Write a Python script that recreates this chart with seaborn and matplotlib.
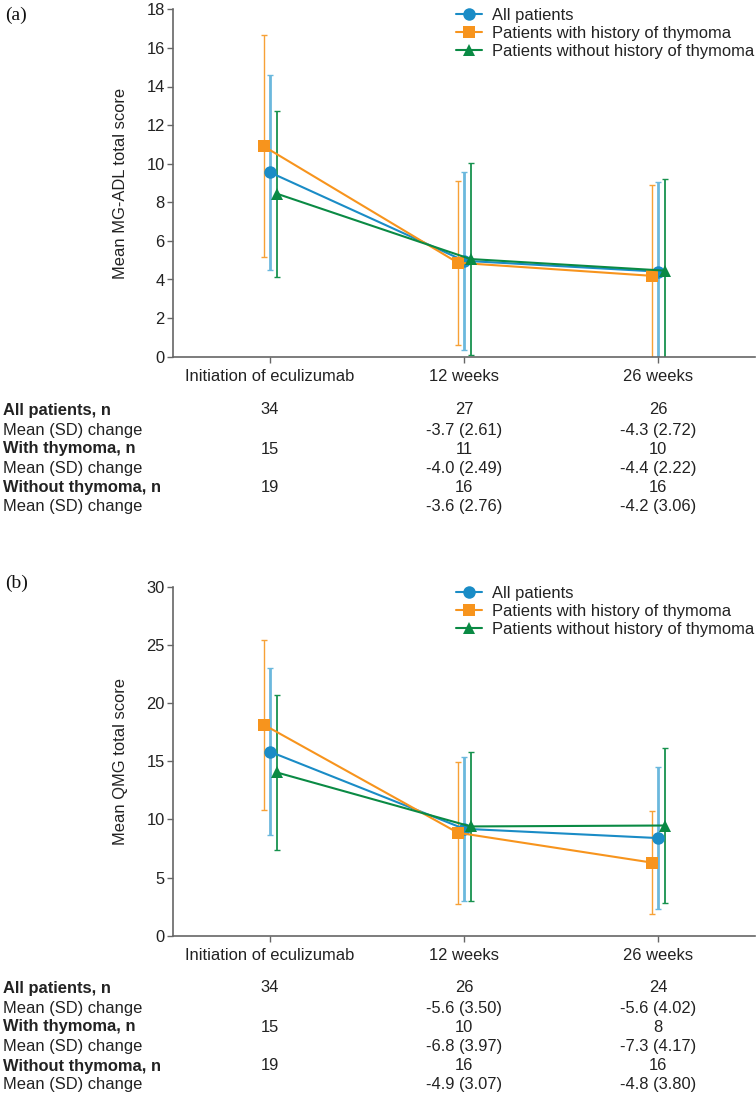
import numpy as np
import pandas as pd
import matplotlib
matplotlib.use("Agg")
import matplotlib.pyplot as plt
import seaborn as sns
from matplotlib.transforms import blended_transform_factory

# ---------------- data ----------------
timepoints = ["Initiation of eculizumab", "12 weeks", "26 weeks"]
groups = ["All patients", "Patients with history of thymoma", "Patients without history of thymoma"]

# Panel (a) MG-ADL: means and SD
adl_all_mean = [9.55, 4.97, 4.41]
adl_all_sd = [5.05, 4.62, 4.62]
adl_thy_mean = [10.9, 4.87, 4.19]
adl_thy_sd = [5.75, 4.25, 4.71]
adl_non_mean = [8.45, 5.06, 4.46]
adl_non_sd = [4.30, 4.97, 4.75]

# Panel (b) QMG: means and SD
qmg_all_mean = [15.83, 9.2, 8.4]
qmg_all_sd = [7.2, 6.2, 6.12]
qmg_thy_mean = [18.15, 8.86, 6.29]
qmg_thy_sd = [7.3, 6.12, 4.43]
qmg_non_mean = [14.05, 9.4, 9.48]
qmg_non_sd = [6.65, 6.43, 6.68]

# Tables below each panel
row_labels = ["All patients, n", "Mean (SD) change", "With thymoma, n",
              "Mean (SD) change", "Without thymoma, n", "Mean (SD) change"]
table_a = [["34", "27", "26"],
           ["", "-3.7 (2.61)", "-4.3 (2.72)"],
           ["15", "11", "10"],
           ["", "-4.0 (2.49)", "-4.4 (2.22)"],
           ["19", "16", "16"],
           ["", "-3.6 (2.76)", "-4.2 (3.06)"]]
table_b = [["34", "26", "24"],
           ["", "-5.6 (3.50)", "-5.6 (4.02)"],
           ["15", "10", "8"],
           ["", "-6.8 (3.97)", "-7.3 (4.17)"],
           ["19", "16", "16"],
           ["", "-4.9 (3.07)", "-4.8 (3.80)"]]

# ---------------- style ----------------
sns.set_theme(style="ticks")
plt.rcParams["font.family"] = ["Liberation Sans", "DejaVu Sans"]

FS = 11.9
W, H = 756, 1095
marker_colors = {"All patients": "#1a8cc6",
                 "Patients with history of thymoma": "#f7941d",
                 "Patients without history of thymoma": "#0a8a44"}
err_colors = {"All patients": "#6bb8dd",
              "Patients with history of thymoma": "#f7a136",
              "Patients without history of thymoma": "#17924e"}
err_lw = {"All patients": 2.0,
          "Patients with history of thymoma": 1.0,
          "Patients without history of thymoma": 1.3}
markers = {"All patients": "o",
           "Patients with history of thymoma": "s",
           "Patients without history of thymoma": "^"}
msizes = {"All patients": 9, "Patients with history of thymoma": 9,
          "Patients without history of thymoma": 9}
offsets = {"All patients": 0.0,
           "Patients with history of thymoma": -0.032,
           "Patients without history of thymoma": 0.034}
spine_col = "#666666"
text_col = "#222222"

fig = plt.figure(figsize=(W / 100, H / 100), dpi=100)


def px_rect(left, top, right, bottom):
    return [left / W, 1 - bottom / H, (right - left) / W, (bottom - top) / H]


def draw_panel(ax, means, sds, ylim, yticks, ylabel, legend_top):
    rows = []
    for g, m, s in zip(groups, means, sds):
        for i, tp in enumerate(timepoints):
            rows.append({"group": g, "x": i + offsets[g], "mean": m[i], "sd": s[i]})
    df = pd.DataFrame(rows)
    # error bars
    for g in groups:
        d = df[df.group == g]
        ax.errorbar(d["x"], d["mean"], yerr=d["sd"], fmt="none",
                    ecolor=err_colors[g], elinewidth=err_lw[g], capsize=2.4,
                    capthick=1.0, zorder=2, clip_on=True)
    # lines and markers through seaborn
    for g in groups:
        d = df[df.group == g]
        sns.lineplot(data=d, x="x", y="mean", ax=ax, color=marker_colors[g],
                     marker=markers[g], markersize=msizes[g], markeredgewidth=0,
                     linewidth=1.5, estimator=None, sort=False, label=g, zorder=3)
    ax.set_xlim(-0.5, 2.5)
    ax.set_ylim(*ylim)
    ax.set_yticks(yticks)
    ax.set_xticks(range(len(timepoints)))
    ax.set_xticklabels(timepoints, fontsize=FS, color=text_col)
    ax.tick_params(axis="y", labelsize=FS, labelcolor=text_col, length=4,
                   width=1, color=spine_col, pad=2)
    ax.tick_params(axis="x", length=4, width=1, color=spine_col, pad=5)
    ax.set_xlabel("")
    ax.set_ylabel(ylabel, fontsize=FS, color=text_col)
    ax.yaxis.set_label_coords((128 - 173) / 582, 0.5)
    for sp in ["top", "right"]:
        ax.spines[sp].set_visible(False)
    for sp in ["left", "bottom"]:
        ax.spines[sp].set_color(spine_col)
        ax.spines[sp].set_linewidth(1.2)
    handles, labels = ax.get_legend_handles_labels()
    leg = ax.legend(handles, labels, loc="upper left", frameon=False,
                    fontsize=FS, bbox_to_anchor=(456 / W, 1 - legend_top / H),
                    bbox_transform=fig.transFigure, handlelength=1.6,
                    handletextpad=0.6, labelspacing=0.18, borderaxespad=0,
                    borderpad=0)
    for t in leg.get_texts():
        t.set_color(text_col)


def draw_table(ax, table, y_rows):
    trans = blended_transform_factory(ax.transData, fig.transFigure)
    for r, (lab, yy) in enumerate(zip(row_labels, y_rows)):
        bold = (r % 2 == 0)
        yb = 1 - (yy + 5.5) / H
        fig.text(3 / W, yb, lab, fontsize=FS, ha="left", va="baseline",
                 fontweight="bold" if bold else "normal", color=text_col)
        for c, val in enumerate(table[r]):
            if val:
                ax.text(c, yb, val, transform=trans, fontsize=FS,
                        ha="center", va="baseline", color=text_col)


ax1 = fig.add_axes(px_rect(173, 9.3, 755, 356.7))
draw_panel(ax1, [adl_all_mean, adl_thy_mean, adl_non_mean],
           [adl_all_sd, adl_thy_sd, adl_non_sd], (0, 18), range(0, 19, 2),
           "Mean MG-ADL total score", 8)
draw_table(ax1, table_a, [409, 429, 448, 467, 487, 506])

ax2 = fig.add_axes(px_rect(173, 587, 755, 935.7))
draw_panel(ax2, [qmg_all_mean, qmg_thy_mean, qmg_non_mean],
           [qmg_all_sd, qmg_thy_sd, qmg_non_sd], (0, 30), range(0, 31, 5),
           "Mean QMG total score", 586)
draw_table(ax2, table_b, [987, 1007, 1026, 1046, 1065, 1084])

fig.text(5 / W, 1 - 15 / H, "(a)", fontsize=14, family=["Liberation Serif"],
         ha="left", va="center", color="#111111")
fig.text(5 / W, 1 - 583 / H, "(b)", fontsize=14, family=["Liberation Serif"],
         ha="left", va="center", color="#111111")

fig.savefig("out.png", dpi=100)
